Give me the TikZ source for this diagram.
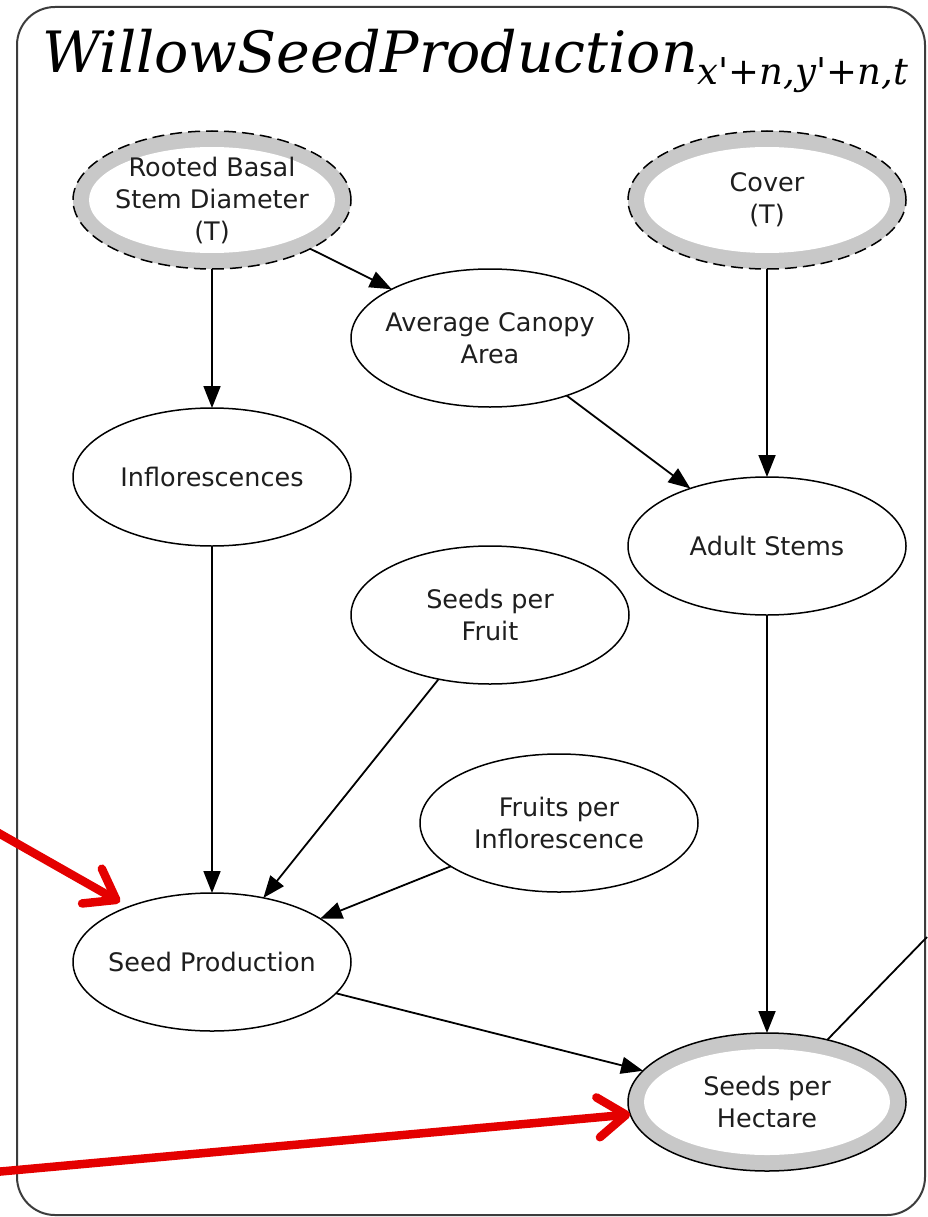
\documentclass[tikz,border=0pt]{standalone}
\usepackage{fontspec}
\setmainfont{DejaVu Sans}
\newfontfamily\titlefont{DejaVu Serif}
\usetikzlibrary{arrows.meta,shapes.geometric}
\definecolor{ringgray}{RGB}{200,200,200}
\definecolor{alertred}{RGB}{228,0,0}
\definecolor{framegray}{RGB}{60,60,60}
\definecolor{inkgray}{RGB}{30,30,30}
% straight apostrophe, bypassing the TeX quote mapping
\newcommand\sq{\XeTeXglyph\XeTeXcharglyph"27\relax}
\tikzset{
  var/.style={ellipse, draw=black, line width=1.5pt, fill=white,
    minimum width=278pt, minimum height=138pt, inner sep=0pt, outer sep=0pt},
  ringed/.style={var, fill=ringgray,
    path picture={\fill[white] (path picture bounding box.center)
      ellipse [x radius=123pt, y radius=53pt];}},
  given/.style={ringed, dash pattern=on 12pt off 6pt},
  lbl/.style={font=\fontsize{25.5}{32}\selectfont, text=inkgray,
    align=center, inner sep=0pt},
  dep/.style={-{Triangle[length=22pt,width=17pt]}, line width=1.8pt},
  note/.style={alertred, line width=8.5pt, line cap=round, line join=round,
    -{Straight Barb[length=28pt,width=40pt,line cap=round,line join=round]}},
}
\begin{document}
\begin{tikzpicture}[x=1pt,y=-1pt]
\useasboundingbox (0,0) rectangle (927,1217);
\fill[white] (0,0) rectangle (927,1217);

% plate frame and its title
\draw[framegray, line width=2pt, rounded corners=38pt] (17,7) rectangle (925,1215);
\node[anchor=base west, inner sep=0pt] (title) at (42,73)
  {\titlefont\itshape\fontsize{57}{62}\selectfont WillowSeedProduction%
   \raisebox{-12pt}{\fontsize{37}{42}\selectfont x\sq+n,y\sq+n,t}};

% variables
\node[given] (rbsd) at (212,200) {};
\node[lbl] (rbsd-text) at (rbsd) {Rooted Basal\\Stem Diameter\\(T)};
\node[given] (cover) at (767,200) {};
\node[lbl] (cover-text) at (cover) {Cover\\(T)};
\node[var] (canopy) at (490,338) {};
\node[lbl] (canopy-text) at (canopy) {Average Canopy\\Area};
\node[var] (infl) at (212,477) {};
\node[lbl] (infl-text) at (infl) {Inflorescences};
\node[var] (adult) at (767,546) {};
\node[lbl] (adult-text) at (adult) {Adult Stems};
\node[var] (spf) at (490,615) {};
\node[lbl] (spf-text) at (spf) {Seeds per\\Fruit};
\node[var] (fpi) at (559,823) {};
\node[lbl] (fpi-text) at (fpi) {Fruits per\\Inflorescence};
\node[var] (seedprod) at (212,962) {};
\node[lbl] (seedprod-text) at (seedprod) {Seed Production};
\node[ringed] (sph) at (767,1102) {};
\node[lbl] (sph-text) at (sph) {Seeds per\\Hectare};

% dependencies
\draw[dep] (rbsd) -- (infl);
\draw[dep] (rbsd) -- (canopy);
\draw[dep] (cover) -- (adult);
\draw[dep] (canopy) -- (adult);
\draw[dep] (infl) -- (seedprod);
\draw[dep] (spf) -- (seedprod);
\draw[dep] (fpi) -- (seedprod);
\draw[dep] (seedprod) -- (sph);
\draw[dep] (adult) -- (sph);
\coordinate (offright) at (927,937);
\draw[line width=1.8pt] (sph) -- (offright);

% red callouts
\coordinate (noteA) at (-5,831);
\coordinate (noteAtip) at (120,902);
\draw[note] (noteA) -- (noteAtip);
\coordinate (noteB) at (-5,1172);
\draw[note] (noteB) -- (sph);
\end{tikzpicture}
\end{document}
